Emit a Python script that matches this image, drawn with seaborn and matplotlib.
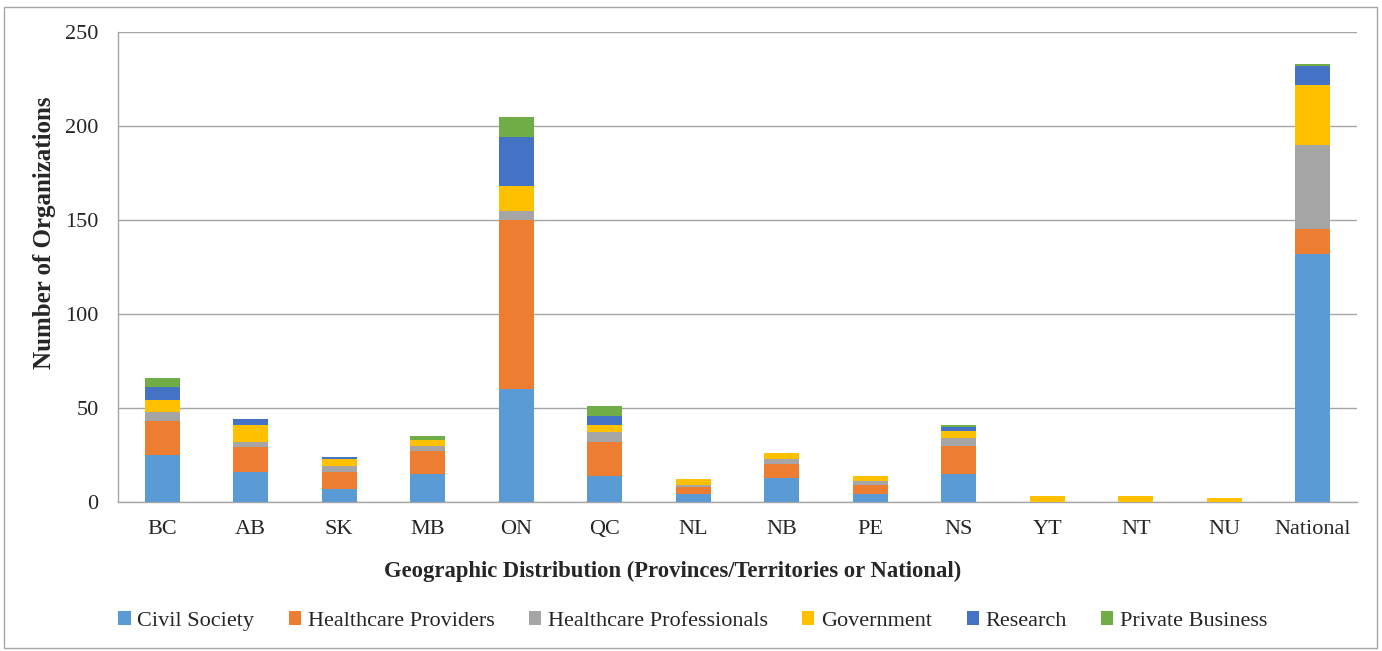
import matplotlib
matplotlib.use("Agg")
import matplotlib.pyplot as plt
from matplotlib.patches import Patch, Rectangle
import numpy as np
import pandas as pd
import seaborn as sns

# data
regions = ['BC', 'AB', 'SK', 'MB', 'ON', 'QC', 'NL', 'NB', 'PE', 'NS', 'YT', 'NT', 'NU', 'National']
sectors = ['Civil Society', 'Healthcare Providers', 'Healthcare Professionals',
           'Government', 'Research', 'Private Business']
civil_society = [25, 16, 7, 15, 60, 14, 4, 13, 4, 15, 0, 0, 0, 132]
healthcare_providers = [18, 13, 9, 12, 90, 18, 4, 7, 5, 15, 0, 0, 0, 13]
healthcare_professionals = [5, 3, 3, 3, 5, 5, 1, 3, 2, 4, 0, 0, 0, 45]
government = [6, 9, 4, 3, 13, 4, 3, 3, 3, 4, 3, 3, 2, 32]
research = [7, 3, 1, 0, 26, 5, 0, 0, 0, 2, 0, 0, 0, 10]
private_business = [5, 0, 0, 2, 11, 5, 0, 0, 0, 1, 0, 0, 0, 1]
colors = ['#5B9BD5', '#ED7D31', '#A5A5A5', '#FFC000', '#4472C4', '#70AD47']

series = [civil_society, healthcare_providers, healthcare_professionals,
          government, research, private_business]
df = pd.DataFrame(dict(zip(sectors, series)), index=regions)
cum = df.cumsum(axis=1)

sns.set_style('white')
plt.rcParams['font.family'] = ['Liberation Serif', 'DejaVu Serif']

fig = plt.figure(figsize=(13.82, 6.51), dpi=100)
ax = fig.add_axes([118 / 1382, 1 - 502 / 651, (1357 - 118) / 1382, 470 / 651])

# stacked bars by overlaying cumulative totals, top layer first
for sector, color in reversed(list(zip(sectors, colors))):
    sns.barplot(x=regions, y=cum[sector].values, order=regions, color=color,
                width=0.4, saturation=1, linewidth=0, ax=ax, zorder=3)

ax.set_ylim(0, 250)
ax.set_xlim(-0.5, len(regions) - 0.5)
ax.set_yticks(np.arange(0, 251, 50))
ax.grid(axis='y', color='#A6A6A6', linewidth=1, zorder=0)
ax.set_axisbelow(True)
for s in ['top', 'right']:
    ax.spines[s].set_visible(False)
for s in ['left', 'bottom']:
    ax.spines[s].set_color('#A6A6A6')
    ax.spines[s].set_linewidth(1)

ax.tick_params(axis='y', length=6, color='#A6A6A6', labelsize=16, pad=8)
ax.tick_params(axis='x', which='major', length=0, labelsize=16, pad=13)
ax.set_xticks(np.arange(-0.5, len(regions), 1), minor=True)
ax.tick_params(axis='x', which='minor', length=6, color='#A6A6A6')
ax.set_xlabel('')
ax.set_ylabel('')

fig.text(673 / 1382, 1 - 571 / 651, 'Geographic Distribution (Provinces/Territories or National)',
         ha='center', va='center', fontsize=16.3, fontweight='bold')
fig.text(45 / 1382, 1 - 233 / 651, 'Number of Organizations', rotation=90,
         ha='center', va='center', fontsize=18, fontweight='bold')

handles = [Patch(facecolor=c, edgecolor='none', label=s) for s, c in zip(sectors, colors)]
fig.legend(handles=handles, loc='center', bbox_to_anchor=(693 / 1382, 1 - 621 / 651),
           ncol=6, frameon=False, fontsize=16, handlelength=0.55, handleheight=0.55,
           handletextpad=0.3, columnspacing=1.55)

fig.patches.append(Rectangle((4 / 1382, 3 / 651), 1373 / 1382, 641 / 651,
                             transform=fig.transFigure, fill=False,
                             edgecolor='#A6A6A6', linewidth=1))

fig.savefig('out.png', dpi=100)
